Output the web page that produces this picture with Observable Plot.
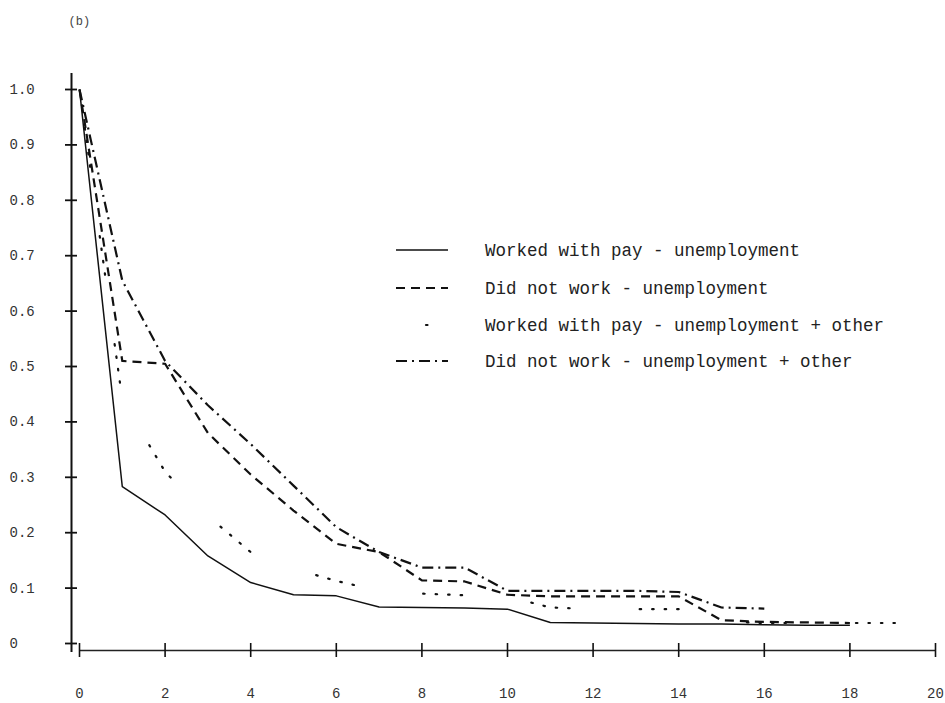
<!DOCTYPE html>
<html>
<head>
<meta charset="utf-8">
<script src="https://cdn.jsdelivr.net/npm/d3@7"></script>
<script src="https://cdn.jsdelivr.net/npm/@observablehq/plot@0.6"></script>
<style>
  body { margin: 0; background: #fff; }
  #wrap { position: relative; width: 945px; height: 703px; }
  #legend { position: absolute; left: 0; top: 0; pointer-events: none; }
  svg text { font-family: "Liberation Mono", "DejaVu Sans Mono", monospace; }
</style>
</head>
<body>
<div id="wrap"></div>
<script>
// Months since start of spell (x) and proportion still in state (y)
const months = d3.range(0, 21);

const seriesNames = [
  "Worked with pay - unemployment",
  "Did not work - unemployment",
  "Worked with pay - unemployment + other",
  "Did not work - unemployment + other"
];

const workedPayUnemp = [1.0, 0.283, 0.232, 0.158, 0.11, 0.088, 0.086, 0.066, 0.065, 0.064, 0.062,
  0.038, 0.037, 0.036, 0.035, 0.035, 0.034, 0.033, 0.033];
const didNotWorkUnemp = [1.0, 0.51, 0.505, 0.38, 0.305, 0.24, 0.18, 0.165, 0.114, 0.112, 0.088,
  0.085, 0.085, 0.085, 0.085, 0.042, 0.039, 0.038, 0.037];
const workedPayUnempOther = [1.0, 0.44, 0.31, 0.23, 0.165, 0.135, 0.113, 0.095, 0.09, 0.087, 0.085,
  0.065, 0.062, 0.062, 0.062, 0.04, 0.037, 0.037, 0.037, 0.037, 0.037];
const didNotWorkUnempOther = [1.0, 0.655, 0.51, 0.43, 0.36, 0.285, 0.21, 0.165, 0.137, 0.137, 0.095,
  0.095, 0.095, 0.095, 0.093, 0.065, 0.063];

const yTicks = [0, 0.1, 0.2, 0.3, 0.4, 0.5, 0.6, 0.7, 0.8, 0.9, 1.0];
const yTickLabels = ["0", "0.1", "0.2", "0.3", "0.4", "0.5", "0.6", "0.7", "0.8", "0.9", "1.0"];
const xTicks = [0, 2, 4, 6, 8, 10, 12, 14, 16, 18, 20];
const xTickLabels = ["0", "2", "4", "6", "8", "10", "12", "14", "16", "18", "20"];

// Line styles per series: solid, dashed, sparse dotted clusters, dash-dot
const dashes = ["none", "9,6", "1.5,11,1.5,11,1.5,11,1.5,70", "11,5,2,5"];
const dashOffsets = [0, 0, 70, 0];
const widths = [1.5, 2.2, 2.2, 2.2];

const allSeries = [workedPayUnemp, didNotWorkUnemp, workedPayUnempOther, didNotWorkUnempOther];
const rows = [];
allSeries.forEach((vals, i) => vals.forEach((v, m) => rows.push({series: seriesNames[i], month: months[m], value: v})));

const plot = Plot.plot({
  width: 945,
  height: 703,
  marginLeft: 79,
  marginRight: 10,
  marginTop: 89,
  marginBottom: 60,
  style: {background: "#fff", color: "#111", fontFamily: "Liberation Mono, monospace"},
  x: {domain: [0, 20]},
  y: {domain: [0, 1]},
  marks: [
    // axis lines
    Plot.ruleX([0], {dx: -8, insetTop: -16, insetBottom: -9, strokeWidth: 2, stroke: "#111"}),
    Plot.ruleY([0], {dy: 7, strokeWidth: 1.3, stroke: "#222"}),
    // cross-shaped ticks
    Plot.axisY(yTicks, {tickSize: 12, dx: -2, strokeWidth: 1.8, tickFormat: () => "", label: null}),
    Plot.axisX(xTicks, {tickSize: 14, strokeWidth: 1.6, tickFormat: () => "", label: null}),
    // tick labels
    Plot.text(yTicks, {y: d => d, text: (d, i) => yTickLabels[i], frameAnchor: "left", dx: -70,
      textAnchor: "start", fontSize: 14, fill: "#333"}),
    Plot.text(xTicks, {x: d => d, text: (d, i) => xTickLabels[i], frameAnchor: "bottom", dy: 54,
      fontSize: 14, fill: "#333"}),
    // panel tag
    Plot.text(["(b)"], {frameAnchor: "top-left", dx: -11, dy: -73, textAnchor: "start",
      fontSize: 12, fill: "#444"}),
    // survival curves
    ...seriesNames.map((name, i) => Plot.line(rows.filter(r => r.series === name), {
      x: "month", y: "value", stroke: "#111", strokeWidth: widths[i],
      strokeDasharray: dashes[i], strokeDashoffset: dashOffsets[i],
      strokeLinecap: i === 2 ? "round" : "butt"
    }))
  ]
});

const wrap = document.getElementById("wrap");
wrap.appendChild(plot);

// Legend overlay
const legendRowsY = [250, 288, 325, 361];
const legendDash = ["none", "9,6", "1.5,60", "11,5,2,5"];
const legendOffset = [0, 0, -30, 0];
const leg = d3.select(wrap).append("svg")
  .attr("id", "legend").attr("width", 945).attr("height", 703);
seriesNames.forEach((name, i) => {
  const g = leg.append("g").attr("transform", `translate(0,${legendRowsY[i]})`);
  g.append("line").attr("x1", 396).attr("x2", 448).attr("y1", 0).attr("y2", 0)
    .attr("stroke", "#111").attr("stroke-width", widths[i])
    .attr("stroke-dasharray", legendDash[i]).attr("stroke-dashoffset", legendOffset[i])
    .attr("stroke-linecap", i === 2 ? "round" : "butt");
  g.append("text").attr("x", 485).attr("y", 0).attr("dy", "0.35em")
    .attr("font-size", 17.5).attr("fill", "#222").text(name);
});
</script>
</body>
</html>
